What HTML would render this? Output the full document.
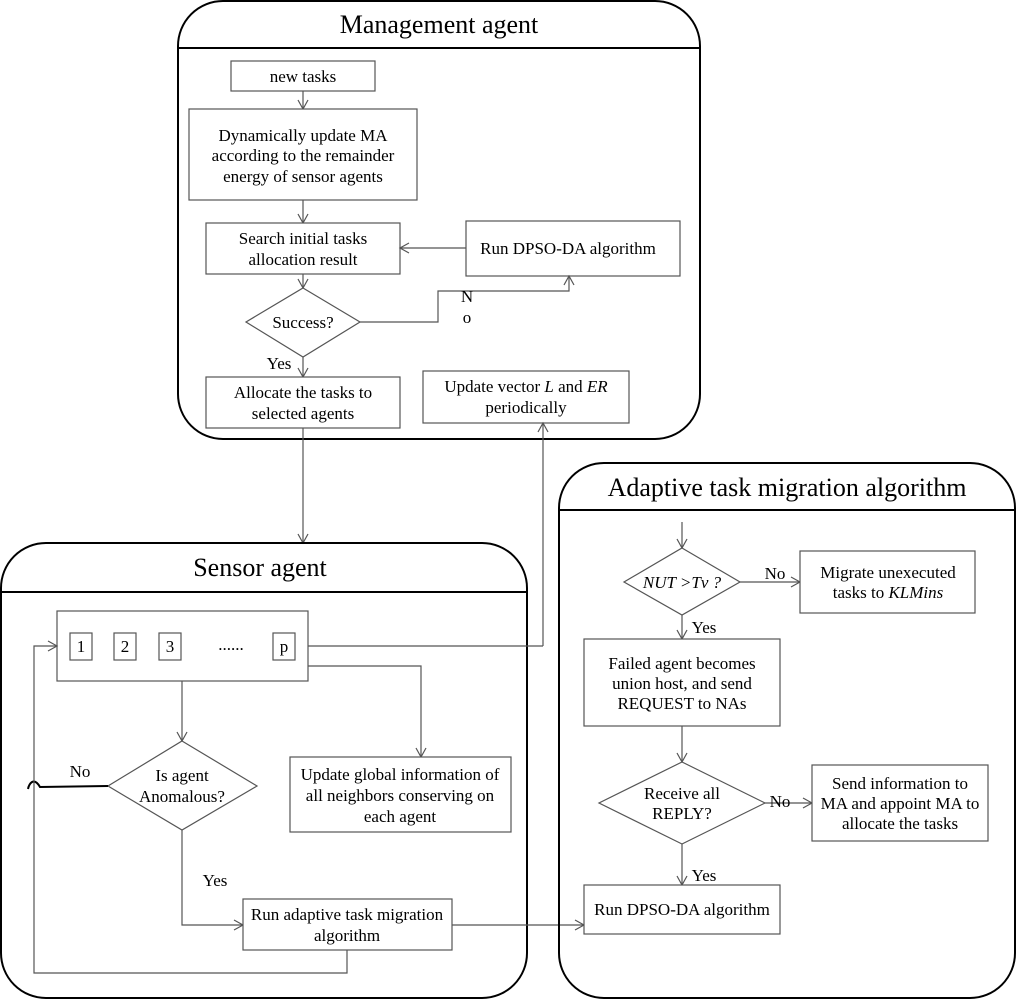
<!DOCTYPE html>
<html><head><meta charset="utf-8"><style>
html,body{margin:0;padding:0;background:#fff}
svg{display:block}
text{font-family:"Liberation Serif",serif;fill:#000}
.b{fill:#fff;stroke:#555;stroke-width:1.2}
.l{fill:none;stroke:#555;stroke-width:1.2}
.o{fill:none;stroke:#000;stroke-width:2}
.t{font-size:17px;text-anchor:middle}
.h{font-size:26px;text-anchor:middle}
</style></head><body>
<svg width="1016" height="1000" viewBox="0 0 1016 1000" xmlns="http://www.w3.org/2000/svg">
<defs><marker id="a" markerWidth="12" markerHeight="12" refX="10" refY="6" orient="auto" markerUnits="userSpaceOnUse"><path d="M1,1 L10,6 L1,11" fill="none" stroke="#555" stroke-width="1.2"/></marker></defs>

<!-- Management agent -->
<rect class="o" x="178" y="1" width="522" height="438" rx="45"/>
<line class="o" x1="178" y1="48" x2="700" y2="48"/>
<text class="h" x="439" y="33">Management agent</text>
<rect class="b" x="231" y="61" width="144" height="30"/>
<text class="t" x="303" y="82">new tasks</text>
<line class="l" x1="303" y1="91" x2="303" y2="109" marker-end="url(#a)"/>
<rect class="b" x="189" y="109" width="228" height="91"/>
<text class="t" x="303" y="141">Dynamically update MA</text>
<text class="t" x="303" y="161">according to the remainder</text>
<text class="t" x="303" y="182">energy of sensor agents</text>
<line class="l" x1="303" y1="200" x2="303" y2="223" marker-end="url(#a)"/>
<rect class="b" x="206" y="223" width="194" height="51"/>
<text class="t" x="303" y="244">Search initial tasks</text>
<text class="t" x="303" y="265">allocation result</text>
<rect class="b" x="466" y="221" width="214" height="55"/>
<text class="t" x="568" y="254">Run DPSO-DA algorithm</text>
<line class="l" x1="466" y1="248" x2="400" y2="248" marker-end="url(#a)"/>
<line class="l" x1="303" y1="274" x2="303" y2="288" marker-end="url(#a)"/>
<polygon class="b" points="303,288 360,322 303,357 246,322"/>
<text class="t" x="303" y="328">Success?</text>
<polyline class="l" points="360,322 438,322 438,291 569,291 569,276" marker-end="url(#a)"/>
<text class="t" x="467" y="302">N</text>
<text class="t" x="467" y="323">o</text>
<text class="t" x="279" y="369">Yes</text>
<line class="l" x1="303" y1="357" x2="303" y2="377" marker-end="url(#a)"/>
<rect class="b" x="206" y="377" width="194" height="51"/>
<text class="t" x="303" y="398">Allocate the tasks to</text>
<text class="t" x="303" y="419">selected agents</text>
<rect class="b" x="423" y="371" width="206" height="52"/>
<text class="t" x="526" y="392">Update vector <tspan font-style="italic">L</tspan> and <tspan font-style="italic">ER</tspan></text>
<text class="t" x="526" y="413">periodically</text>

<line class="l" x1="303" y1="428" x2="303" y2="543" marker-end="url(#a)"/>
<line class="l" x1="543" y1="646" x2="543" y2="423" marker-end="url(#a)"/>

<!-- Sensor agent -->
<rect class="o" x="1" y="543" width="526" height="455" rx="45"/>
<line class="o" x1="1" y1="592" x2="527" y2="592"/>
<text class="h" x="260" y="576">Sensor agent</text>
<rect class="b" x="57" y="611" width="251" height="70"/>
<rect class="b" x="70" y="633" width="22" height="27"/><text class="t" x="81" y="652">1</text>
<rect class="b" x="114" y="633" width="22" height="27"/><text class="t" x="125" y="652">2</text>
<rect class="b" x="159" y="633" width="22" height="27"/><text class="t" x="170" y="652">3</text>
<text class="t" x="231" y="650">......</text>
<rect class="b" x="273" y="633" width="22" height="27"/><text class="t" x="284" y="652">p</text>
<line class="l" x1="308" y1="646" x2="543" y2="646"/>
<polyline class="l" points="308,666 421,666 421,757" marker-end="url(#a)"/>
<rect class="b" x="290" y="757" width="221" height="75"/>
<text class="t" x="400" y="780">Update global information of</text>
<text class="t" x="400" y="801">all neighbors conserving on</text>
<text class="t" x="400" y="822">each agent</text>
<line class="l" x1="182" y1="681" x2="182" y2="741" marker-end="url(#a)"/>
<polygon class="b" points="182,741 257,786 182,830 108,786"/>
<text class="t" x="182" y="781">Is agent</text>
<text class="t" x="182" y="802">Anomalous?</text>
<path d="M108,786 L40,787 Q36,780 32,782 Q29,784 28,789" fill="none" stroke="#000" stroke-width="2"/>
<text class="t" x="80" y="777">No</text>
<text class="t" x="215" y="886">Yes</text>
<polyline class="l" points="182,830 182,925 243,925" marker-end="url(#a)"/>
<rect class="b" x="243" y="899" width="209" height="51"/>
<text class="t" x="347" y="920">Run adaptive task migration</text>
<text class="t" x="347" y="941">algorithm</text>
<polyline class="l" points="347,950 347,973 34,973 34,646 57,646" marker-end="url(#a)"/>
<line class="l" x1="452" y1="925" x2="584" y2="925" marker-end="url(#a)"/>

<!-- Adaptive -->
<rect class="o" x="559" y="463" width="456" height="535" rx="45"/>
<line class="o" x1="559" y1="510" x2="1015" y2="510"/>
<text class="h" x="787" y="496">Adaptive task migration algorithm</text>
<line class="l" x1="682" y1="522" x2="682" y2="548" marker-end="url(#a)"/>
<polygon class="b" points="682,548 740,582 682,615 624,582"/>
<text class="t" x="682" y="588" font-style="italic">NUT &gt;Tv ?</text>
<line class="l" x1="740" y1="582" x2="800" y2="582" marker-end="url(#a)"/>
<text class="t" x="775" y="579">No</text>
<rect class="b" x="800" y="551" width="175" height="62"/>
<text class="t" x="888" y="578">Migrate unexecuted</text>
<text class="t" x="888" y="598">tasks to <tspan font-style="italic">KLMins</tspan></text>
<line class="l" x1="682" y1="615" x2="682" y2="639" marker-end="url(#a)"/>
<text class="t" x="704" y="633">Yes</text>
<rect class="b" x="584" y="639" width="196" height="87"/>
<text class="t" x="682" y="669">Failed agent becomes</text>
<text class="t" x="682" y="689">union host, and send</text>
<text class="t" x="682" y="709">REQUEST to NAs</text>
<line class="l" x1="682" y1="726" x2="682" y2="762" marker-end="url(#a)"/>
<polygon class="b" points="682,762 765,803 682,844 599,803"/>
<text class="t" x="682" y="799">Receive all</text>
<text class="t" x="682" y="819">REPLY?</text>
<line class="l" x1="765" y1="803" x2="812" y2="803" marker-end="url(#a)"/>
<text class="t" x="780" y="807">No</text>
<rect class="b" x="812" y="765" width="176" height="76"/>
<text class="t" x="900" y="789">Send information to</text>
<text class="t" x="900" y="809">MA and appoint MA to</text>
<text class="t" x="900" y="829">allocate the tasks</text>
<line class="l" x1="682" y1="844" x2="682" y2="885" marker-end="url(#a)"/>
<text class="t" x="704" y="881">Yes</text>
<rect class="b" x="584" y="885" width="196" height="49"/>
<text class="t" x="682" y="915">Run DPSO-DA algorithm</text>
</svg>
</body></html>
